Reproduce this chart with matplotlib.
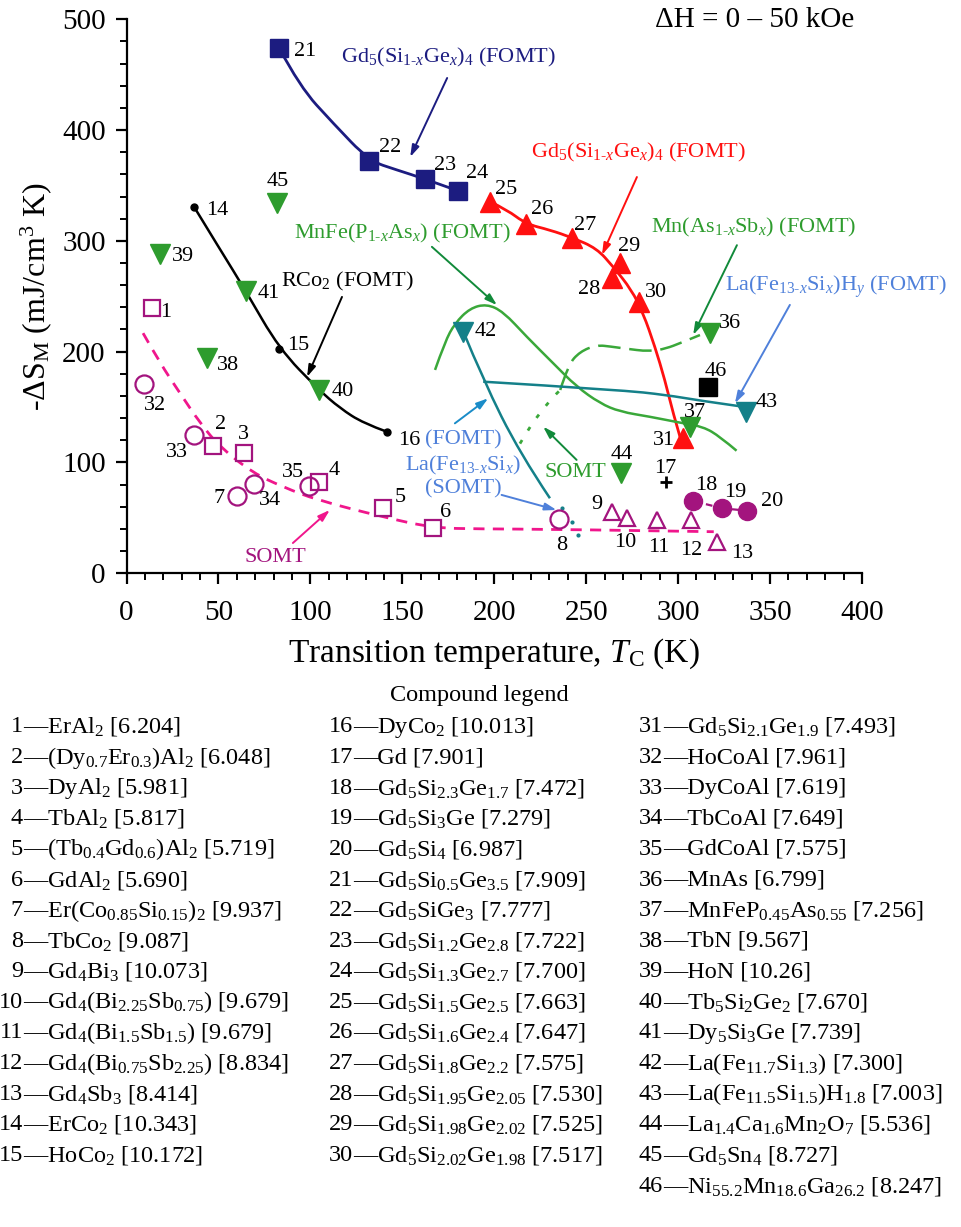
import numpy as np
import matplotlib
matplotlib.use("Agg")
import matplotlib.pyplot as plt
from matplotlib.path import Path
from matplotlib.patches import PathPatch

plt.rcParams["font.family"] = ["Liberation Serif", "DejaVu Serif"]
plt.rcParams["mathtext.fontset"] = "custom"
plt.rcParams["mathtext.rm"] = "Liberation Serif"
plt.rcParams["mathtext.it"] = "Liberation Serif:italic"
plt.rcParams["mathtext.bf"] = "Liberation Serif:bold"
plt.rcParams["mathtext.default"] = "regular"

# ---------------- data ----------------
ids = list(range(1, 47))
tc = [13.7, 47.2, 63.9, 104.8, 139.6, 166.5, 60.3, 235.0, 263.9, 272.4,
      288.4, 307.2, 321.3, 36.9, 83.1, 141.5, 293.4, 308.1, 324.1, 337.3,
      83.1, 131.9, 162.3, 180.1, 197.7, 217.2, 242.4, 263.8, 268.4, 278.8,
      302.4, 9.5, 36.7, 69.3, 99.4, 317.3, 306.4, 43.9, 18.2, 104.7,
      64.8, 183.2, 337.2, 269.2, 81.7, 316.4]
dsm = [239.2, 115.2, 108.8, 82.7, 58.7, 41.2, 69.8, 49.0, 55.6, 49.6,
       48.1, 48.1, 28.5, 330.3, 202.4, 127.3, 82.7, 65.3, 58.6, 56.5,
       473.8, 372.4, 355.9, 345.3, 335.4, 315.3, 302.9, 266.2, 280.3, 245.1,
       121.8, 170.8, 124.8, 80.3, 79.1, 216.6, 132.3, 194.0, 288.2, 165.4,
       255.0, 218.1, 145.8, 90.8, 333.9, 167.9]

names = ["ErAl$_2$", "(Dy$_{0.7}$Er$_{0.3}$)Al$_2$", "DyAl$_2$", "TbAl$_2$",
         "(Tb$_{0.4}$Gd$_{0.6}$)Al$_2$", "GdAl$_2$",
         "Er(Co$_{0.85}$Si$_{0.15}$)$_2$", "TbCo$_2$", "Gd$_4$Bi$_3$",
         "Gd$_4$(Bi$_{2.25}$Sb$_{0.75}$)", "Gd$_4$(Bi$_{1.5}$Sb$_{1.5}$)",
         "Gd$_4$(Bi$_{0.75}$Sb$_{2.25}$)", "Gd$_4$Sb$_3$", "ErCo$_2$", "HoCo$_2$",
         "DyCo$_2$", "Gd", "Gd$_5$Si$_{2.3}$Ge$_{1.7}$", "Gd$_5$Si$_3$Ge",
         "Gd$_5$Si$_4$", "Gd$_5$Si$_{0.5}$Ge$_{3.5}$", "Gd$_5$SiGe$_3$",
         "Gd$_5$Si$_{1.2}$Ge$_{2.8}$", "Gd$_5$Si$_{1.3}$Ge$_{2.7}$",
         "Gd$_5$Si$_{1.5}$Ge$_{2.5}$", "Gd$_5$Si$_{1.6}$Ge$_{2.4}$",
         "Gd$_5$Si$_{1.8}$Ge$_{2.2}$", "Gd$_5$Si$_{1.95}$Ge$_{2.05}$",
         "Gd$_5$Si$_{1.98}$Ge$_{2.02}$", "Gd$_5$Si$_{2.02}$Ge$_{1.98}$",
         "Gd$_5$Si$_{2.1}$Ge$_{1.9}$", "HoCoAl", "DyCoAl", "TbCoAl", "GdCoAl",
         "MnAs", "MnFeP$_{0.45}$As$_{0.55}$", "TbN", "HoN", "Tb$_5$Si$_2$Ge$_2$",
         "Dy$_5$Si$_3$Ge", "La(Fe$_{11.7}$Si$_{1.3}$)",
         "La(Fe$_{11.5}$Si$_{1.5}$)H$_{1.8}$", "La$_{1.4}$Ca$_{1.6}$Mn$_2$O$_7$",
         "Gd$_5$Sn$_4$", "Ni$_{55.2}$Mn$_{18.6}$Ga$_{26.2}$"]
density = ["6.204", "6.048", "5.981", "5.817", "5.719", "5.690", "9.937",
           "9.087", "10.073", "9.679", "9.679", "8.834", "8.414", "10.343",
           "10.172", "10.013", "7.901", "7.472", "7.279", "6.987", "7.909",
           "7.777", "7.722", "7.700", "7.663", "7.647", "7.575", "7.530",
           "7.525", "7.517", "7.493", "7.961", "7.619", "7.649", "7.575",
           "6.799", "7.256", "9.567", "10.26", "7.670", "7.739", "7.300",
           "7.003", "5.536", "8.727", "8.247"]

# guide curves
navy_x = [83.1, 94.3, 112.4, 131.9, 147.0, 162.3, 180.1]
navy_y = [473.8, 439.1, 406.1, 372.4, 364.0, 355.9, 345.3]
rco2_x = [36.9, 50.8, 64.8, 83.1, 104.7, 116.1, 128.8, 141.5]
rco2_y = [330.3, 292.5, 255.0, 202.4, 165.4, 149.0, 135.4, 127.8]
red_x = [197.7, 207.0, 217.2, 230.3, 242.4, 255.7, 264.7, 274.7, 281.0, 287.4, 292.8, 297.3, 301.0]
red_y = [335.4, 328.0, 315.3, 309.8, 302.9, 293.3, 276.7, 255.7, 234.7, 204.5, 174.5, 144.4, 123.3]
mnfe_x = [167.8, 173.2, 178.6, 186.8, 195.9, 204.9, 217.6, 232.1, 244.8, 257.5,
          268.4, 284.7, 301.0, 313.6, 322.8, 331.8]
mnfe_y = [183.5, 209.0, 225.6, 239.2, 243.0, 236.1, 213.5, 189.5, 168.4, 153.4,
          145.8, 141.3, 135.9, 132.3, 123.3, 110.6]
mnas_dot_x = [214.0, 219.4, 224.8, 232.1, 235.9]
mnas_dot_y = [117.0, 132.3, 144.4, 159.4, 165.4]
mnas_x = [235.9, 240.2, 246.6, 255.7, 263.8, 270.2, 284.7, 293.7, 301.0, 311.9]
mnas_y = [165.4, 188.0, 200.0, 206.0, 204.5, 203.0, 200.0, 203.0, 207.6, 215.0]
lafe_x = [183.2, 194.0, 213.9, 230.3]
lafe_y = [218.1, 174.5, 108.3, 67.7]
lafe_dot_x = [236.7, 242.1, 245.7]
lafe_dot_y = [58.7, 46.6, 34.6]
lafeh_x = [194.0, 268.4, 293.7, 311.9, 334.9]
lafeh_y = [172.9, 165.4, 160.9, 155.8, 150.4]
somt_x = [9.0, 18.2, 29.1, 40.0, 50.8, 68.8, 85.1, 103.6, 139.5, 166.7, 192.3, 233.9, 319.4]
somt_y = [216.7, 189.8, 162.5, 135.6, 114.0, 90.5, 77.9, 66.1, 50.8, 40.9, 40.0, 39.7, 37.5]

# marker groups (compound numbers)
open_sq = [1, 2, 3, 4, 5, 6]
open_ci = [7, 8, 32, 33, 34, 35]
open_tri = [9, 10, 11, 12, 13]
black_dot = [14, 15, 16]
plus_pt = [17]
full_ci = [18, 19, 20]
navy_sq = [21, 22, 23, 24]
red_tri = [25, 26, 27, 28, 29, 30, 31]
green_tri = [36, 37, 38, 39, 40, 41, 44, 45]
teal_tri = [42, 43]
black_sq = [46]

# label offsets in pixels (layout)
lab_off = {1: (14, -4), 2: (7, 21), 3: (-1, 18), 4: (15, 11), 5: (17, 11),
           6: (13, 15), 7: (-18, -3), 8: (3, -27), 9: (-15, 7), 10: (-2, -24),
           11: (2, -28), 12: (0, -31), 13: (25, -12), 14: (23, -3), 15: (19, 3),
           16: (23, -8), 17: (-1, 13), 18: (13, 15), 19: (13, 16), 20: (25, 9),
           21: (26, -3), 22: (21, 13), 23: (20, 13), 24: (19, 17), 25: (16, 12),
           26: (16, 14), 27: (13, 12), 28: (-22, -11), 29: (9, 16), 30: (17, 9),
           31: (-19, -2), 32: (11, -21), 33: (-17, -18), 34: (16, -16),
           35: (-16, 13), 36: (20, 10), 37: (5, 14), 38: (21, -7), 39: (23, -3),
           40: (24, -2), 41: (23, -3), 42: (22, 0), 43: (20, 9), 44: (0, 18),
           45: (1, 22), 46: (8, 16)}

MAG = "#a3147e"
PINK = "#f0168c"
NAVY = "#1c1c80"
RED = "#ff1010"
GREEN = "#2e9c2e"
GLINE = "#3aa83a"
DGREEN = "#118a3a"
TEAL = "#148089"
BLUE = "#4f80da"
FS = 16


def pick(group):
    return [tc[i - 1] for i in group], [dsm[i - 1] for i in group]


def smooth(ax, xs, ys, **kw):
    pts = list(zip(xs, ys))
    verts = [pts[0]]
    codes = [Path.MOVETO]
    if len(pts) == 2:
        verts.append(pts[1])
        codes.append(Path.LINETO)
    for i in range(1, len(pts) - 1):
        if i == len(pts) - 2:
            end = pts[i + 1]
        else:
            end = ((pts[i][0] + pts[i + 1][0]) / 2, (pts[i][1] + pts[i + 1][1]) / 2)
        verts += [pts[i], end]
        codes += [Path.CURVE3, Path.CURVE3]
    patch = PathPatch(Path(verts, codes), fill=False, **kw)
    ax.add_patch(patch)


def arrow(ax, start, end, color, lw=1.4):
    ax.annotate("", xy=end, xytext=start,
                arrowprops=dict(arrowstyle="-|>,head_length=0.7,head_width=0.22",
                                color=color, lw=lw, shrinkA=0, shrinkB=0))


fig = plt.figure(figsize=(9.62, 12.27), dpi=100)
ax = fig.add_axes([0.1315, 0.5328, 0.7645, 0.4515])

# ---------------- guide curves ----------------
smooth(ax, somt_x, somt_y, color=PINK, lw=2.0, linestyle=(0, (4, 3)), zorder=2)
smooth(ax, navy_x, navy_y, color=NAVY, lw=2.0, zorder=2)
smooth(ax, rco2_x, rco2_y, color="black", lw=1.8, zorder=2)
smooth(ax, red_x, red_y, color=RED, lw=2.0, zorder=2)
smooth(ax, mnfe_x, mnfe_y, color=GLINE, lw=1.8, zorder=2)
smooth(ax, mnas_dot_x, mnas_dot_y, color=GLINE, lw=2.0, linestyle=(0, (1.5, 4)), zorder=2)
smooth(ax, mnas_x, mnas_y, color=GLINE, lw=1.8, linestyle=(0, (9, 3.5)), zorder=2)
smooth(ax, lafe_x, lafe_y, color=TEAL, lw=1.8, zorder=2)
smooth(ax, lafeh_x, lafeh_y, color=TEAL, lw=1.8, zorder=2)
ax.plot(lafe_dot_x, lafe_dot_y, ls="none", marker="o", ms=2, color=TEAL, zorder=2)
fx, fy = pick(full_ci)
ax.plot(fx, fy, color=MAG, lw=1.6, ls=(0, (3, 3)), zorder=2)

# ---------------- markers ----------------
x, y = pick(open_sq)
ax.plot(x, y, ls="none", marker="s", ms=12, mfc="white", mec=MAG, mew=1.6, zorder=4)
x, y = pick(open_ci)
ax.plot(x, y, ls="none", marker="o", ms=13, mfc="none", mec=MAG, mew=1.6, zorder=4)
x, y = pick(open_tri)
ax.plot(x, y, ls="none", marker="^", ms=12, mfc="white", mec=MAG, mew=1.6, zorder=4)
x, y = pick(black_dot)
ax.plot(x, y, ls="none", marker="o", ms=5, color="black", zorder=4)
x, y = pick(plus_pt)
ax.plot(x, y, ls="none", marker="+", ms=8, mew=2, color="black", zorder=4)
ax.plot(fx, fy, ls="none", marker="o", ms=13, color=MAG, zorder=4)
x, y = pick(navy_sq)
ax.plot(x, y, ls="none", marker="s", ms=13, color=NAVY, zorder=4)
x, y = pick(red_tri)
ax.plot(x, y, ls="none", marker="^", ms=14, color=RED, zorder=4)
x, y = pick(green_tri)
ax.plot(x, y, ls="none", marker="v", ms=14, color=GREEN, zorder=4)
x, y = pick(teal_tri)
ax.plot(x, y, ls="none", marker="v", ms=14, color=TEAL, zorder=4)
x, y = pick(black_sq)
ax.plot(x, y, ls="none", marker="s", ms=13, color="black", zorder=4)

for i in ids:
    dx, dy = lab_off[i]
    ax.annotate(str(i), (tc[i - 1], dsm[i - 1]), xytext=(dx, dy),
                textcoords="offset pixels", ha="center", va="center",
                fontsize=FS, zorder=5)

# ---------------- annotations ----------------
ax.text(174.9, 465.1, r"Gd$_5$(Si$_{1\text{-}\mathit{x}}$Ge$_\mathit{x}$)$_4$ (FOMT)",
        color=NAVY, fontsize=FS, ha="center", va="center")
arrow(ax, (174.4, 447.0), (154.3, 375.7), NAVY)

ax.text(278.7, 380.2, r"Gd$_5$(Si$_{1\text{-}\mathit{x}}$Ge$_\mathit{x}$)$_4$ (FOMT)",
        color=RED, fontsize=FS, ha="center", va="center")
arrow(ax, (277.6, 357.6), (258.6, 287.3), RED)

ax.text(149.8, 307.1, r"MnFe(P$_{1\text{-}\mathit{x}}$As$_\mathit{x}$) (FOMT)",
        color=GREEN, fontsize=FS, ha="center", va="center")
arrow(ax, (166.1, 294.6), (201.5, 242.0), DGREEN)

ax.text(341.2, 312.5, r"Mn(As$_{1\text{-}\mathit{x}}$Sb$_\mathit{x}$) (FOMT)",
        color=GREEN, fontsize=FS, ha="center", va="center")
arrow(ax, (332.0, 296.1), (308.2, 215.1), DGREEN)

ax.text(385.8, 258.4, r"La(Fe$_{13\text{-}\mathit{x}}$Si$_\mathit{x}$)H$_\mathit{y}$ (FOMT)",
        color=BLUE, fontsize=FS, ha="center", va="center")
arrow(ax, (360.8, 242.2), (330.9, 153.4), BLUE)

ax.text(119.9, 262.9, r"RCo$_2$ (FOMT)", color="black", fontsize=FS,
        ha="center", va="center")
arrow(ax, (117.2, 249.4), (98.2, 177.2), "black")

ax.text(183.0, 120.0, "(FOMT)", color=BLUE, fontsize=FS, ha="center", va="center")
ax.text(183.0, 97.7, r"La(Fe$_{13\text{-}\mathit{x}}$Si$_\mathit{x}$)", color=BLUE,
        fontsize=FS, ha="center", va="center")
ax.text(183.0, 76.0, "(SOMT)", color=BLUE, fontsize=FS, ha="center", va="center")
arrow(ax, (178.6, 135.3), (196.7, 157.9), "#1a8cc8")
arrow(ax, (204.0, 70.7), (233.9, 57.1), BLUE)

ax.text(244.4, 90.5, "SOMT", color=GREEN, fontsize=FS, ha="center", va="center")
arrow(ax, (244.8, 102.3), (226.6, 132.3), DGREEN)

ax.text(80.8, 13.8, "SOMT", color=MAG, fontsize=FS, ha="center", va="center")
arrow(ax, (90.5, 27.3), (110.6, 57.1), PINK)

ax.text(341.8, 499.4, "ΔH = 0 – 50 kOe", fontsize=21, ha="center", va="center")

# ---------------- axes ----------------
ax.set_xlim(0, 400)
ax.set_ylim(0, 500)
ax.spines["top"].set_visible(False)
ax.spines["right"].set_visible(False)
for s in ("left", "bottom"):
    ax.spines[s].set_linewidth(1.6)
ax.set_xticks(np.arange(0, 401, 50))
ax.set_yticks(np.arange(0, 501, 100))
ax.set_xticks(np.arange(0, 401, 10), minor=True)
ax.set_yticks(np.arange(0, 501, 20), minor=True)
ax.tick_params(which="major", direction="out", length=8, width=1.6, labelsize=21)
ax.tick_params(axis="x", which="major", pad=11)
ax.tick_params(axis="y", which="major", pad=7)
ax.tick_params(which="minor", direction="out", length=5, width=1.4)
ax.set_xlabel(r"Transition temperature, $\mathit{T}_\mathrm{C}$ (K)", fontsize=24, labelpad=8)
ax.set_ylabel(r"-ΔS$_\mathrm{M}$ (mJ/cm$^3$ K)", fontsize=23, labelpad=6)

# ---------------- compound legend ----------------
W, H = 962.0, 1227.0
LFS = 17.5
fig.text(479 / W, 1 - 695 / H, "Compound legend", fontsize=LFS, ha="center", va="center")
col_x = [23, 353, 663]
row_y0 = 727
row_dy = 30.6
for k, i in enumerate(ids):
    if i <= 15:
        c, r = 0, i - 1
    elif i <= 30:
        c, r = 1, i - 16
    else:
        c, r = 2, i - 31
    yy = 1 - (row_y0 + r * row_dy) / H
    fig.text(col_x[c] / W, yy, str(i), fontsize=LFS, ha="right", va="center")
    fig.text(col_x[c] / W, yy, "—" + names[k] + " [" + density[k] + "]",
             fontsize=LFS, ha="left", va="center")

fig.savefig("out.png", dpi=100)
